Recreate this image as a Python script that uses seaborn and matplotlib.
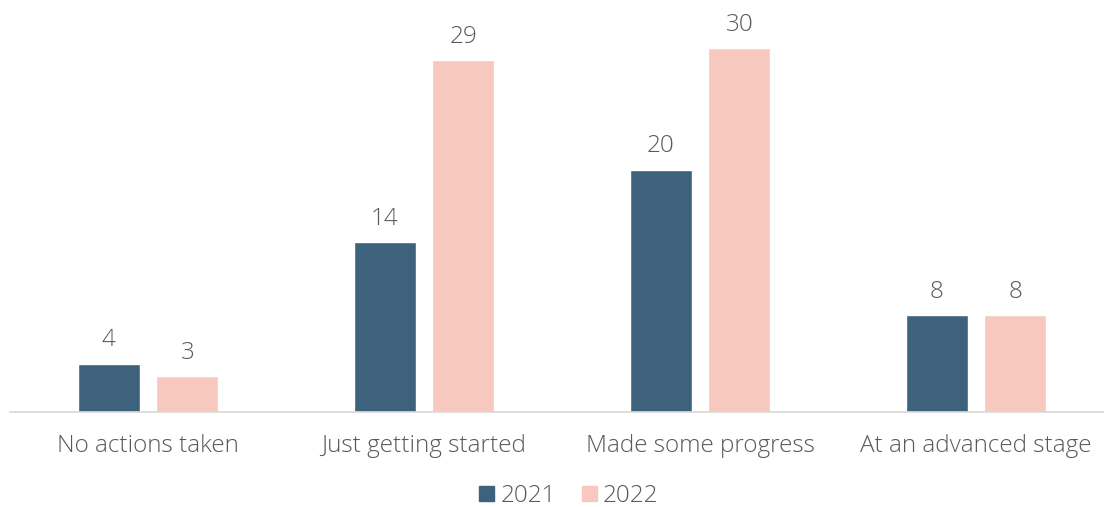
import matplotlib
matplotlib.use("Agg")
import matplotlib.pyplot as plt
import seaborn as sns
import pandas as pd

categories = ["No actions taken", "Just getting started", "Made some progress", "At an advanced stage"]
series_names = ["2021", "2022"]
values_2021 = [4, 14, 20, 8]
values_2022 = [3, 29, 30, 8]

df = pd.DataFrame({
    "category": categories * 2,
    "year": [series_names[0]] * 4 + [series_names[1]] * 4,
    "value": values_2021 + values_2022,
})

sns.set_theme(style="white")
plt.rcParams["font.family"] = ["Open Sans", "DejaVu Sans"]

colors = ["#3E627C", "#F7C9BE"]
text_color = "#595959"
fs = 17.5
fw = "light"

fig = plt.figure(figsize=(11.04, 5.07), dpi=100)
ax = fig.add_axes([10 / 1104, 95 / 507, 1104 / 1104, 400 / 507])

sns.barplot(data=df, x="category", y="value", hue="year", order=categories,
            hue_order=series_names, palette=colors, width=0.572, gap=0.215,
            saturation=1, ax=ax, legend=True)

for cont in ax.containers:
    ax.bar_label(cont, fmt="%d", padding=8, fontsize=fs, color=text_color, fontweight=fw)

ax.set_ylim(0, 33)
ax.set_xlim(-0.5, 3.5)
ax.set_xlabel("")
ax.set_ylabel("")
ax.set_yticks([])
for s in ["top", "right", "left"]:
    ax.spines[s].set_visible(False)
ax.spines["bottom"].set_color("#D9D9D9")
ax.spines["bottom"].set_linewidth(1.2)
ax.tick_params(axis="x", length=0, pad=16, labelsize=fs, labelcolor=text_color)
for lab in ax.get_xticklabels():
    lab.set_fontweight(fw)

ax.legend_.remove()
handles = [plt.Rectangle((0, 0), 1, 1, color=c) for c in colors]
leg = fig.legend(handles, series_names, loc="center", bbox_to_anchor=(569 / 1104, 1 - 496 / 507),
                 ncol=2, frameon=False, fontsize=fs, handlelength=0.6, handleheight=0.6,
                 handletextpad=0.25, columnspacing=1.1)
for t in leg.get_texts():
    t.set_color(text_color)
    t.set_fontweight(fw)

fig.savefig("out.png", dpi=100)
